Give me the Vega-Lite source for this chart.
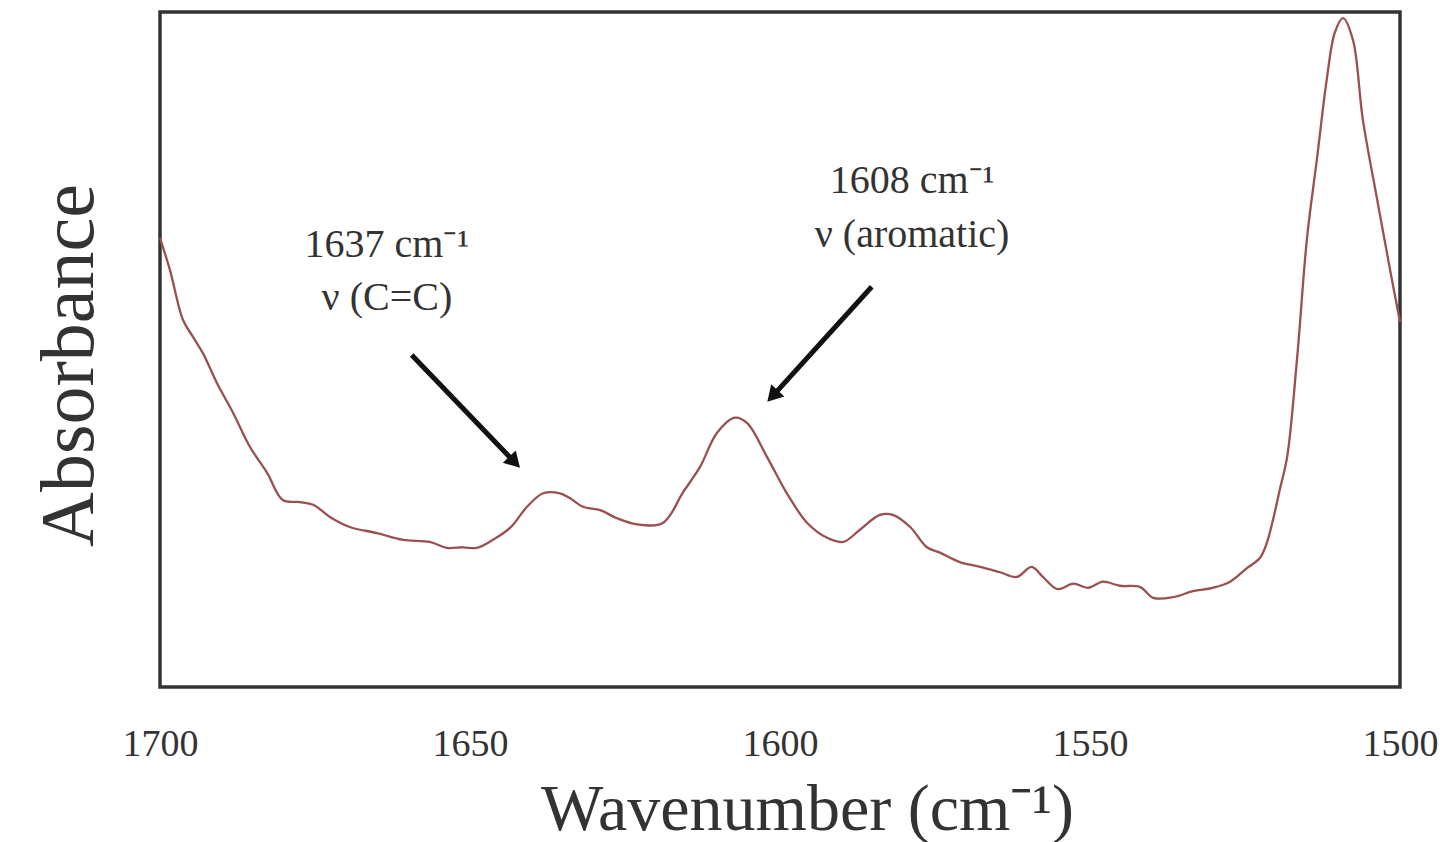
{
  "$schema": "https://vega.github.io/schema/vega-lite/v6.json",
  "width": 1240,
  "height": 675,
  "autosize": {"type": "none"},
  "padding": {"left": 160, "top": 12, "right": 50, "bottom": 155},
  "background": "white",
  "config": {
    "view": {"stroke": "#333333", "strokeWidth": 3.5},
    "font": "Liberation Serif"
  },
  "datasets": {
    "spectrum": [
      {"wn": 1700.0, "A": 0.665}, {"wn": 1698.4, "A": 0.618}, {"wn": 1696.3, "A": 0.544}, {"wn": 1694.7, "A": 0.519},
      {"wn": 1693.1, "A": 0.495}, {"wn": 1690.8, "A": 0.450}, {"wn": 1688.2, "A": 0.406}, {"wn": 1685.5, "A": 0.356},
      {"wn": 1682.7, "A": 0.317}, {"wn": 1680.2, "A": 0.277}, {"wn": 1677.4, "A": 0.274}, {"wn": 1675.3, "A": 0.270},
      {"wn": 1672.6, "A": 0.252}, {"wn": 1669.4, "A": 0.237}, {"wn": 1665.0, "A": 0.228}, {"wn": 1660.8, "A": 0.218},
      {"wn": 1656.5, "A": 0.215}, {"wn": 1653.7, "A": 0.206}, {"wn": 1651.1, "A": 0.207}, {"wn": 1648.9, "A": 0.206},
      {"wn": 1646.3, "A": 0.218}, {"wn": 1643.5, "A": 0.236}, {"wn": 1640.8, "A": 0.267}, {"wn": 1638.2, "A": 0.287},
      {"wn": 1635.5, "A": 0.287}, {"wn": 1633.9, "A": 0.280}, {"wn": 1631.8, "A": 0.267}, {"wn": 1629.0, "A": 0.262},
      {"wn": 1626.3, "A": 0.250}, {"wn": 1623.1, "A": 0.241}, {"wn": 1618.9, "A": 0.243}, {"wn": 1615.6, "A": 0.289},
      {"wn": 1612.9, "A": 0.326}, {"wn": 1610.2, "A": 0.376}, {"wn": 1607.3, "A": 0.399}, {"wn": 1605.3, "A": 0.391},
      {"wn": 1602.1, "A": 0.341}, {"wn": 1598.9, "A": 0.287}, {"wn": 1595.6, "A": 0.243}, {"wn": 1592.4, "A": 0.221},
      {"wn": 1589.8, "A": 0.215}, {"wn": 1587.1, "A": 0.233}, {"wn": 1583.9, "A": 0.255}, {"wn": 1581.8, "A": 0.255},
      {"wn": 1579.0, "A": 0.237}, {"wn": 1576.3, "A": 0.207}, {"wn": 1574.2, "A": 0.199}, {"wn": 1571.0, "A": 0.185},
      {"wn": 1567.7, "A": 0.178}, {"wn": 1564.5, "A": 0.170}, {"wn": 1561.8, "A": 0.163}, {"wn": 1559.4, "A": 0.178},
      {"wn": 1557.6, "A": 0.163}, {"wn": 1555.2, "A": 0.145}, {"wn": 1552.7, "A": 0.153}, {"wn": 1550.3, "A": 0.147},
      {"wn": 1547.9, "A": 0.156}, {"wn": 1545.2, "A": 0.150}, {"wn": 1541.9, "A": 0.148}, {"wn": 1539.8, "A": 0.132},
      {"wn": 1536.6, "A": 0.133}, {"wn": 1533.4, "A": 0.142}, {"wn": 1530.2, "A": 0.147}, {"wn": 1527.4, "A": 0.156},
      {"wn": 1524.7, "A": 0.176}, {"wn": 1522.6, "A": 0.191}, {"wn": 1521.5, "A": 0.213}, {"wn": 1520.5, "A": 0.247},
      {"wn": 1519.4, "A": 0.292}, {"wn": 1518.2, "A": 0.341}, {"wn": 1516.6, "A": 0.487}, {"wn": 1515.0, "A": 0.665},
      {"wn": 1513.4, "A": 0.782}, {"wn": 1511.8, "A": 0.901}, {"wn": 1510.5, "A": 0.970}, {"wn": 1509.2, "A": 0.991},
      {"wn": 1507.6, "A": 0.959}, {"wn": 1506.0, "A": 0.841}, {"wn": 1503.7, "A": 0.723}, {"wn": 1501.6, "A": 0.618},
      {"wn": 1500.0, "A": 0.541}
    ],
    "labels": [
      {"wn": 1663.4, "A": 0.637, "text": "1637 cm⁻¹"},
      {"wn": 1663.4, "A": 0.559, "text": "ν (C=C)"},
      {"wn": 1578.7, "A": 0.732, "text": "1608 cm⁻¹"},
      {"wn": 1578.7, "A": 0.652, "text": "ν (aromatic)"}
    ],
    "arrows": [
      {"id": "a1", "wn1": 1659.4, "A1": 0.492, "wn2": 1642.8, "A2": 0.333},
      {"id": "a2", "wn1": 1585.2, "A1": 0.593, "wn2": 1601.2, "A2": 0.431}
    ]
  },
  "layer": [
    {
      "data": {"name": "spectrum"},
      "mark": {"type": "line", "color": "#9a5050", "strokeWidth": 2.3, "interpolate": "catmull-rom"},
      "encoding": {
        "x": {
          "field": "wn", "type": "quantitative",
          "scale": {"domain": [1700, 1500], "nice": false, "zero": false},
          "axis": {
            "values": [1700, 1650, 1600, 1550, 1500], "format": "d",
            "ticks": false, "domain": false, "grid": false,
            "labelFont": "Liberation Serif", "labelFontSize": 38, "labelColor": "#333333",
            "labelPadding": 38, "labelFlush": false,
            "title": "Wavenumber (cm⁻¹)", "titleFont": "Liberation Serif", "titleFontSize": 66,
            "titleFontWeight": "normal", "titleColor": "#333333", "titlePadding": 14,
            "titleX": 647, "titleAlign": "center"
          }
        },
        "y": {
          "field": "A", "type": "quantitative",
          "scale": {"domain": [0, 1], "nice": false},
          "axis": {
            "ticks": false, "labels": false, "domain": false, "grid": false,
            "title": "Absorbance", "titleFont": "Liberation Serif", "titleFontSize": 76,
            "titleFontWeight": "normal", "titleColor": "#333333",
            "titleAngle": 270, "titleAlign": "center", "titleBaseline": "bottom",
            "titleX": -52, "titleY": 353
          }
        }
      }
    },
    {
      "data": {"name": "labels"},
      "mark": {"type": "text", "font": "Liberation Serif", "fontSize": 40, "color": "#333333", "align": "center", "baseline": "alphabetic"},
      "encoding": {
        "x": {"field": "wn", "type": "quantitative"},
        "y": {"field": "A", "type": "quantitative"},
        "text": {"field": "text"}
      }
    },
    {
      "data": {"name": "arrows"},
      "mark": {"type": "rule", "color": "#111111", "strokeWidth": 5},
      "encoding": {
        "x": {"field": "wn1", "type": "quantitative"},
        "y": {"field": "A1", "type": "quantitative"},
        "x2": {"field": "wn2"},
        "y2": {"field": "A2"}
      }
    },
    {
      "data": {"name": "arrows"},
      "transform": [{"filter": "datum.id === 'a1'"}],
      "mark": {"type": "point", "shape": "triangle-up", "filled": true, "color": "#111111", "size": 320, "angle": 136.2, "opacity": 1},
      "encoding": {
        "x": {"field": "wn2", "type": "quantitative"},
        "y": {"field": "A2", "type": "quantitative"}
      }
    },
    {
      "data": {"name": "arrows"},
      "transform": [{"filter": "datum.id === 'a2'"}],
      "mark": {"type": "point", "shape": "triangle-up", "filled": true, "color": "#111111", "size": 320, "angle": 222.4, "opacity": 1},
      "encoding": {
        "x": {"field": "wn2", "type": "quantitative"},
        "y": {"field": "A2", "type": "quantitative"}
      }
    }
  ]
}
